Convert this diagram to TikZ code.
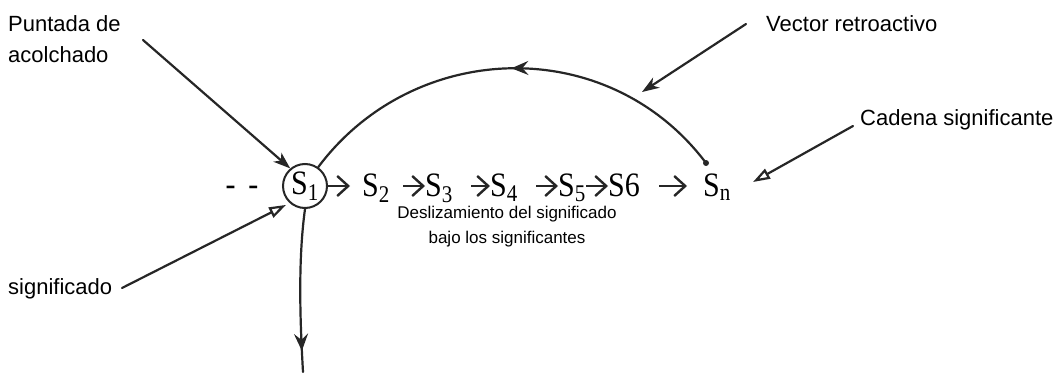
\documentclass[tikz,border=0pt]{standalone}
\usepackage{fontspec}
\usepackage{graphicx}
\setmainfont{Liberation Serif}
\setsansfont{Liberation Sans}
\usetikzlibrary{arrows.meta,decorations.markings}
\definecolor{ink}{HTML}{262626}
\newcommand{\tallS}[1]{\scalebox{1}[1.14]{#1}}
\begin{document}
\begin{tikzpicture}[x=1pt,y=-1pt,
  lbl/.style={font=\sffamily\fontsize{22}{31}\selectfont, inner sep=0pt, text=black},
  small/.style={font=\sffamily\fontsize{17}{25}\selectfont, inner sep=0pt, align=center},
  sig/.style={font=\fontsize{30}{36}\selectfont, inner sep=0pt, anchor=base west},
  chainarr/.style={ink, line width=2.4pt, -{Straight Barb[length=11pt,width=20pt,line width=2.4pt]}},
  hand/.style={ink, line width=2.2pt, line cap=round},
  stealthtip/.style={-{Stealth[length=17pt,width=12pt,inset=5pt]}},
  opentip/.style={-{Triangle[open,length=17pt,width=11pt,line width=2.2pt]}},
  midarrow/.style={postaction={decorate}, decoration={markings,
      mark=at position #1 with {\arrow{Stealth[length=17pt,width=14pt,inset=6pt]}}}}
]
\useasboundingbox (0,0) rectangle (1062,372);
\fill[white] (0,0) rectangle (1062,372);

% labels
\node[lbl, anchor=north west, align=left] (punt) at (8,15) {Puntada de\\acolchado};
\node[lbl, anchor=base west] (vec) at (766,31) {Vector retroactivo};
\node[lbl, anchor=base west] (cad) at (860,125) {Cadena significante};
\node[lbl, anchor=base west] (sigdo) at (8,294) {significado};
\node[small, anchor=north] (desl) at (507,206) {Deslizamiento del significado\\bajo los significantes};

% chain
\node[draw=ink, line width=2pt, circle, minimum size=44pt, inner sep=0pt,
      font=\fontsize{30}{36}\selectfont] (s1) at (305,186) {\tallS{S\textsubscript{1}}};
\node[font=\bfseries\fontsize{30}{36}\selectfont, inner sep=0pt, anchor=base] (dash) at (242,194) {-\hspace{13pt}-};
\node[sig] (s2) at (362,196) {\tallS{S\textsubscript{2}}};
\node[sig] (s3) at (425,196) {\tallS{S\textsubscript{3}}};
\node[sig] (s4) at (490,196) {\tallS{S\textsubscript{4}}};
\node[sig] (s5) at (558,196) {\tallS{S\textsubscript{5}}};
\node[sig] (s6) at (608,196) {\tallS{S6}};
\node[sig] (sn) at (703,196) {\tallS{S\textsubscript{n}}};

\draw[chainarr, shorten >=12pt] (s1.east) -- (s2.west |- s1.east);
\draw[chainarr, shorten <=13pt] (s2.east |- s1.east) -- (s3.west |- s1.east);
\draw[chainarr, shorten <=18pt] (s3.east |- s1.east) -- (s4.west |- s1.east);
\draw[chainarr, shorten <=18pt] (s4.east |- s1.east) -- (s5.west |- s1.east);
\draw[chainarr] (s5.east |- s1.east) -- (s6.west |- s1.east);
\draw[chainarr, shorten <=19pt, shorten >=16pt] (s6.east |- s1.east) -- (sn.west |- s1.east);

% retroactive arc
\coordinate (snend) at (706,163);
\draw[hand, midarrow=0.5] (snend) .. controls (608,33) and (414,39) .. (s1.55);
\fill[ink] (snend) circle (3pt);

% downward line
\coordinate (vbot) at (303,372);
\draw[hand, midarrow=0.87] (s1.south) .. controls (298,260) and (300,320) .. (vbot);

% label arrows
\coordinate (puntstart) at (143,40);
\coordinate (vecstart) at (746,24);
\coordinate (cadstart) at (853,126);
\coordinate (sigstart) at (122,288);
\coordinate (vectip) at (642,92);
\coordinate (cadtip) at (753,182);
\draw[hand, stealthtip] (puntstart) -- (s1.130);
\draw[hand, stealthtip] (vecstart) -- (vectip);
\draw[hand, opentip] (cadstart) -- (cadtip);
\draw[hand, opentip, shorten >=4pt] (sigstart) -- (s1.228);
\end{tikzpicture}
\end{document}
